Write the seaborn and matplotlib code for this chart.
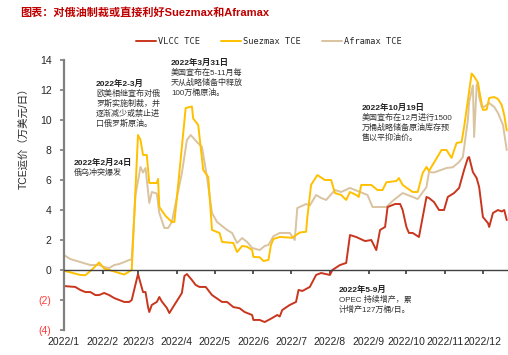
import pandas as pd
import seaborn as sns
import matplotlib
matplotlib.use('Agg')
from matplotlib import pyplot as plt
import matplotlib.dates as mdates

# --- data ---
vlcc_dates = ['01-01', '01-10', '01-14', '01-18', '01-22', '01-26', '01-29', '02-02', '02-06', '02-10',
              '02-14', '02-18', '02-22', '02-24', '03-01', '03-05', '03-07', '03-09', '03-10', '03-12',
              '03-16', '03-18', '03-20', '03-24', '03-26', '03-30', '04-03', '04-05', '04-07', '04-09',
              '04-13', '04-16', '04-19', '04-24', '04-29', '05-07', '05-11', '05-16', '05-21', '05-25',
              '05-31', '06-01', '06-06', '06-10', '06-16', '06-20', '06-22', '06-24', '06-30', '07-05',
              '07-07', '07-10', '07-16', '07-21', '07-25', '08-01', '08-03', '08-09', '08-14', '08-17',
              '08-22', '08-29', '09-03', '09-07', '09-10', '09-14', '09-16', '09-22', '09-26', '09-28',
              '10-01', '10-03', '10-06', '10-11', '10-14', '10-17', '10-19', '10-23', '10-27', '10-31',
              '11-03', '11-08', '11-12', '11-16', '11-19', '11-20', '11-23', '11-26', '11-28', '12-01',
              '12-05', '12-06', '12-09', '12-13', '12-16', '12-18', '12-20']
vlcc_tce = [-1.07, -1.13, -1.33, -1.47, -1.47, -1.67, -1.67, -1.53, -1.67, -1.87,
            -2.0, -2.13, -2.13, -2.0, -0.27, -1.47, -1.47, -2.47, -2.8, -2.33,
            -2.13, -1.8, -2.1, -2.53, -2.87, -2.33, -1.8, -1.53, -0.4, -0.27,
            -0.67, -1.0, -1.13, -1.13, -1.67, -2.13, -2.13, -2.47, -2.55, -2.8,
            -3.0, -3.33, -3.33, -3.47, -3.2, -3.0, -3.1, -2.67, -2.33, -2.13,
            -1.33, -1.4, -1.13, -0.33, -0.2, -0.33, 0.0, 0.33, 0.47, 2.33,
            2.2, 1.93, 2.0, 1.33, 2.67, 2.87, 4.2, 4.4, 4.4, 4.0,
            2.87, 2.47, 2.47, 2.2, 3.53, 4.87, 4.8, 4.53, 4.0, 4.0,
            4.87, 5.13, 5.47, 6.67, 7.47, 7.53, 6.53, 6.13, 5.53, 3.53,
            3.13, 2.87, 3.8, 4.0, 3.9, 4.0, 3.33]

suez_dates = ['01-01', '01-14', '01-18', '01-23', '01-29', '02-02', '02-10', '02-18', '02-22', '02-24',
              '03-01', '03-03', '03-05', '03-08', '03-10', '03-16', '03-17', '03-18', '03-23', '03-28',
              '03-30', '04-03', '04-08', '04-13', '04-14', '04-18', '04-22', '04-26', '04-29', '05-05',
              '05-07', '05-16', '05-19', '05-23', '05-27', '05-31', '06-01', '06-06', '06-09', '06-13',
              '06-15', '06-17', '06-22', '07-02', '07-08', '07-13', '07-14', '07-17', '07-22', '07-28',
              '08-02', '08-05', '08-10', '08-14', '08-17', '08-22', '08-24', '08-26', '09-03', '09-08',
              '09-12', '09-15', '09-23', '09-25', '09-28', '10-06', '10-10', '10-14', '10-17', '10-19',
              '10-29', '11-02', '11-06', '11-10', '11-14', '11-16', '11-19', '11-22', '11-24', '11-27',
              '11-28', '11-30', '12-01', '12-04', '12-06', '12-10', '12-13', '12-16', '12-18', '12-20']
suez_tce = [-0.05, -0.33, -0.35, 0.0, 0.5, 0.1, -0.1, -0.3, -0.1, 0.0,
            9.0, 8.67, 7.67, 7.67, 5.8, 5.8, 6.07, 4.2, 3.6, 3.2,
            3.2, 6.5, 10.8, 10.9, 10.1, 9.67, 6.67, 6.2, 2.67, 2.47,
            1.87, 1.8, 1.2, 1.6, 1.55, 1.33, 0.87, 0.85, 0.6, 0.67,
            1.67, 2.07, 2.2, 2.15, 2.5, 2.55, 3.5, 5.67, 6.33, 6.0,
            6.0, 5.13, 5.0, 4.67, 5.2, 5.0, 4.87, 5.67, 5.67, 5.33,
            5.33, 5.85, 5.93, 6.13, 5.67, 5.2, 5.2, 6.47, 6.87, 6.6,
            8.0, 8.0, 7.47, 8.47, 8.53, 9.53, 11.3, 13.1, 12.9, 12.5,
            12.0, 11.1, 10.67, 10.7, 11.47, 11.53, 11.4, 11.0, 10.33, 9.3]

afra_dates = ['01-01', '01-06', '01-14', '01-22', '01-29', '02-02', '02-06', '02-10', '02-14', '02-18',
              '02-22', '02-24', '02-27', '03-03', '03-05', '03-07', '03-10', '03-12', '03-16', '03-18',
              '03-22', '03-25', '03-28', '04-05', '04-09', '04-12', '04-17', '04-21', '04-25', '04-29',
              '05-03', '05-11', '05-15', '05-19', '05-23', '05-27', '05-31', '06-06', '06-10', '06-13',
              '06-17', '06-22', '06-30', '07-04', '07-06', '07-13', '07-16', '07-21', '07-25', '07-29',
              '08-05', '08-10', '08-17', '08-22', '08-31', '09-04', '09-15', '09-20', '09-28', '10-06',
              '10-10', '10-17', '10-19', '10-23', '11-02', '11-07', '11-12', '11-15', '11-19', '11-20',
              '11-23', '11-24', '11-26', '11-27', '11-28', '11-30', '12-02', '12-06', '12-10', '12-13',
              '12-17', '12-20']
afra_tce = [1.0, 0.73, 0.53, 0.33, 0.33, 0.2, 0.13, 0.33, 0.4, 0.53,
            0.67, 0.7, 5.0, 6.87, 6.5, 6.8, 4.47, 5.2, 5.1, 3.8,
            2.8, 2.8, 3.2, 6.47, 8.67, 9.0, 8.53, 8.2, 6.2, 3.8,
            3.2, 2.67, 2.47, 1.8, 2.13, 1.87, 1.47, 1.33, 1.6, 1.67,
            2.25, 2.47, 2.47, 2.0, 4.13, 4.4, 4.3, 5.0, 4.8, 4.67,
            5.33, 5.2, 5.47, 5.3, 5.0, 4.2, 4.2, 4.6, 5.13, 4.87,
            4.73, 5.53, 6.53, 6.5, 6.8, 6.85, 7.2, 7.53, 10.0, 11.2,
            12.3, 8.87, 12.3, 12.5, 11.53, 10.87, 10.87, 11.13, 10.87, 10.47,
            9.67, 8.0]

series_names = ['VLCC TCE', 'Suezmax TCE', 'Aframax TCE']
series_colors = ['#C9361E', '#FFC000', '#D9C3A0']
y_ticks = [-4, -2, 0, 2, 4, 6, 8, 10, 12, 14]
x_months = ['2022-%02d-01' % m for m in range(1, 13)]

frames = []
for name, dates, vals in zip(series_names,
                             [vlcc_dates, suez_dates, afra_dates],
                             [vlcc_tce, suez_tce, afra_tce]):
    frames.append(pd.DataFrame({'date': pd.to_datetime(['2022-' + d for d in dates]),
                                'tce': vals, 'series': name}))
data = pd.concat(frames, ignore_index=True)

sns.set_theme(style='white')
plt.rcParams['font.family'] = ['Liberation Sans', 'Noto Sans CJK SC']
plt.rcParams['axes.unicode_minus'] = False

W, H = 508, 355
fig = plt.figure(figsize=(W / 100, H / 100), dpi=100)
ax = fig.add_axes([64 / W, 1 - 330 / H, 1 - 64 / W, 270 / H])

# draw Aframax first so Suezmax sits on top like the reference
for name in ['Aframax TCE', 'Suezmax TCE', 'VLCC TCE']:
    sub = data[data.series == name]
    sns.lineplot(x='date', y='tce', data=sub, ax=ax, color=series_colors[series_names.index(name)],
                 linewidth=1.4, label=name, legend=False)

ax.set_ylim(-4, 14)
ax.set_xlim(pd.Timestamp('2022-01-01'), pd.Timestamp('2022-12-21'))
ax.set_yticks(y_ticks)
ax.set_yticklabels(['(%d)' % -t if t < 0 else '%d' % t for t in y_ticks], fontsize=7.5)
for lbl, t in zip(ax.get_yticklabels(), y_ticks):
    if t < 0:
        lbl.set_color('#FF3B3B')

ax.set_xticks(pd.to_datetime(x_months))
ax.xaxis.set_major_formatter(mdates.DateFormatter('%Y/%-m'))
ax.tick_params(axis='x', labelsize=7.5, length=3, direction='out', pad=45, color='#404040')
ax.tick_params(axis='y', length=3, direction='out', pad=6, color='#808080', left=True)
ax.tick_params(axis='x', bottom=True)

for s in ['top', 'right']:
    ax.spines[s].set_visible(False)
ax.spines['bottom'].set_position(('data', 0))
ax.spines['bottom'].set_color('#404040')
ax.spines['bottom'].set_linewidth(1.0)
ax.spines['left'].set_color('#808080')
ax.spines['left'].set_linewidth(1.6)

ax.set_xlabel('')
ax.set_ylabel('TCE运价（万美元/日）', fontsize=7.5)
ax.yaxis.set_label_coords(-0.077, 0.72)

# legend
handles, labels = ax.get_legend_handles_labels()
order = [labels.index(n) for n in series_names]
fig.legend([handles[i] for i in order], [labels[i] for i in order], loc='center',
           bbox_to_anchor=(269 / W, 1 - 42 / H), ncol=3, frameon=False,
           handlelength=2.3, handletextpad=0.3, columnspacing=2.4,
           prop={'family': ['DejaVu Sans Mono'], 'size': 6.2})

# title
fig.text(20 / W, 1 - 13 / H, '图表：对俄油制裁或直接利好Suezmax和Aframax', color='#C00000',
         fontsize=8, fontweight='bold', va='center', ha='left')

# annotations
notes = [
    (74, 163, '2022年2月24日', ['俄乌冲突爆发']),
    (96, 84, '2022年2-3月', ['欧美相继宣布对俄', '罗斯实施制裁，并', '逐渐减少或禁止进', '口俄罗斯原油。']),
    (171, 63, '2022年3月31日', ['美国宣布在5-11月每', '天从战略储备中释放', '100万桶原油。']),
    (362, 108, '2022年10月19日', ['美国宣布在12月进行1500', '万桶战略储备原油库存预', '售以平抑油价。']),
    (339, 290, '2022年5-9月', ['OPEC 持续增产，累', '计增产127万桶/日。']),
]
for x, y, head, body in notes:
    fig.text(x / W, 1 - y / H, head, fontsize=6, fontweight='bold', color='#222222',
             va='center', ha='left')
    for i, line in enumerate(body):
        fig.text(x / W, 1 - (y + 10 * (i + 1)) / H, line, fontsize=5.8, color='#333333',
                 va='center', ha='left')

fig.savefig('out.png', dpi=100)
